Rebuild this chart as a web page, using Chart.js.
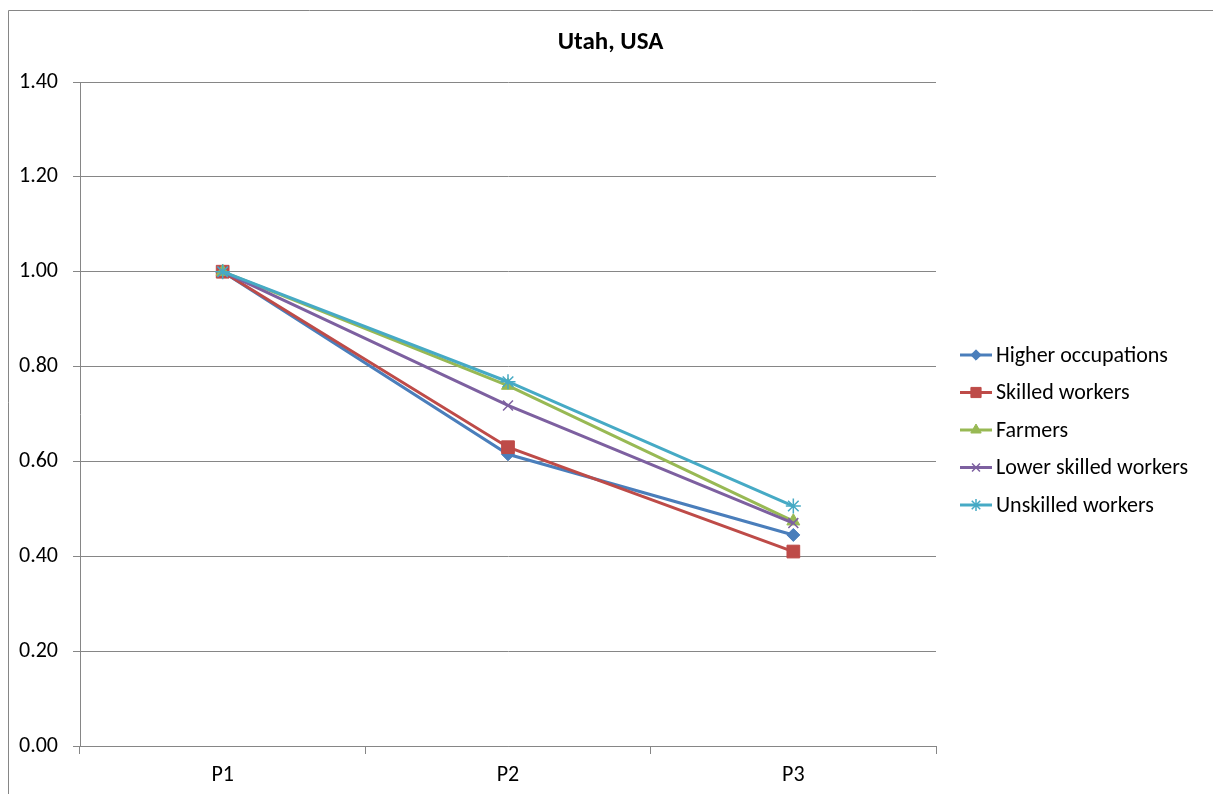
<!DOCTYPE html>
<html>
<head>
<meta charset="utf-8">
<title>Utah, USA</title>
<script src="https://cdn.jsdelivr.net/npm/chart.js@4.4.1/dist/chart.umd.min.js"></script>
<style>
    body { margin: 0; background: #fff; }
    #wrap { width: 1213px; height: 794px; }
</style>
</head>
<body>
<div id="wrap"><canvas id="grafico" width="1213" height="794"></canvas></div>
<script>
// Data
const titulo = "Utah, USA";
const periodos = ["P1", "P2", "P3"];
const seriesNames = ["Higher occupations", "Skilled workers", "Farmers", "Lower skilled workers", "Unskilled workers"];
const higherOcc = [1.00, 0.615, 0.445];
const skilled = [1.00, 0.630, 0.410];
const farmers = [1.00, 0.760, 0.474];
const lowerSkilled = [1.00, 0.718, 0.470];
const unskilled = [1.00, 0.768, 0.506];
const yTicks = [0, 0.2, 0.4, 0.6, 0.8, 1.0, 1.2, 1.4];

const FONT = "Carlito, Calibri, Lato, sans-serif";
const GRIS = "#868686";

// Look of each series (Excel 2007 defaults)
const colores = ["#4A7EBB", "#BE4B48", "#98B954", "#7D60A0", "#46AAC5"];
const marcas = ["rectRot", "rect", "triangle", "crossRot", "star"];
const radios = [6.5, 9, 7.5, 7, 7.5];

const valores = [higherOcc, skilled, farmers, lowerSkilled, unskilled];

const datasets = valores.map((v, i) => ({
    label: seriesNames[i],
    data: v,
    borderColor: colores[i],
    backgroundColor: colores[i],
    borderWidth: 3,
    pointStyle: marcas[i],
    pointRadius: radios[i],
    pointHoverRadius: radios[i],
    pointBackgroundColor: colores[i],
    pointBorderColor: colores[i],
    pointBorderWidth: (marcas[i] === "crossRot" || marcas[i] === "star") ? 1.5 : 1,
    tension: 0,
    order: valores.length - i // last series drawn on top, like Excel
}));

// Frame of the chart object (only left and top edges are visible) and the title
const marco = {
    id: "marco",
    beforeDraw(chart) {
        const ctx = chart.ctx;
        ctx.save();
        ctx.strokeStyle = GRIS;
        ctx.lineWidth = 1;
        ctx.beginPath();
        ctx.moveTo(8.5, chart.height);
        ctx.lineTo(8.5, 10.5);
        ctx.lineTo(chart.width, 10.5);
        ctx.stroke();
        ctx.fillStyle = "#000";
        ctx.font = "bold 25px " + FONT;
        ctx.textAlign = "center";
        ctx.textBaseline = "middle";
        ctx.fillText(titulo, (8 + chart.width) / 2, 43);
        ctx.restore();
    }
};

// Legend on the right: line with its marker, then the name
const leyenda = {
    id: "leyenda",
    afterDraw(chart) {
        const ctx = chart.ctx;
        const area = chart.chartArea;
        const sets = chart.data.datasets;
        const paso = 37.5;
        const y0 = (area.top + area.bottom) / 2 + 16 - paso * (sets.length - 1) / 2;
        const x0 = area.right + 24;
        ctx.save();
        ctx.font = "22px " + FONT;
        ctx.textBaseline = "middle";
        ctx.textAlign = "left";
        sets.forEach((ds, i) => {
            const y = y0 + i * paso;
            ctx.strokeStyle = ds.borderColor;
            ctx.lineWidth = 3;
            ctx.beginPath();
            ctx.moveTo(x0, y);
            ctx.lineTo(x0 + 32, y);
            ctx.stroke();
            ctx.fillStyle = ds.pointBackgroundColor;
            ctx.strokeStyle = ds.pointBorderColor;
            ctx.lineWidth = ds.pointBorderWidth;
            Chart.helpers.drawPoint(ctx, {
                pointStyle: ds.pointStyle,
                radius: ds.pointRadius * 0.8,
                rotation: 0,
                borderWidth: ds.pointBorderWidth
            }, x0 + 16, y);
            ctx.fillStyle = "#000";
            ctx.fillText(ds.label, x0 + 36, y + 1);
        });
        ctx.restore();
    }
};

new Chart(document.getElementById("grafico").getContext("2d"), {
    type: "line",
    data: { labels: periodos, datasets: datasets },
    options: {
        responsive: false,
        devicePixelRatio: 1,
        animation: false,
        layout: { padding: { left: 8, top: 82, right: 277, bottom: 0 } },
        plugins: {
            legend: { display: false },
            tooltip: { enabled: false },
            title: { display: false }
        },
        scales: {
            x: {
                type: "category",
                offset: true,
                grid: { offset: true, drawOnChartArea: false, tickLength: 8, color: GRIS },
                border: { color: GRIS },
                ticks: { color: "#000", padding: 8, font: { family: FONT, size: 22 } },
                afterFit(scale) { scale.height = 48; }
            },
            y: {
                min: yTicks[0],
                max: yTicks[yTicks.length - 1],
                afterBuildTicks(scale) { scale.ticks = yTicks.map(v => ({ value: v })); },
                grid: { color: GRIS, tickLength: 7 },
                border: { color: GRIS },
                ticks: {
                    color: "#000",
                    padding: 15,
                    font: { family: FONT, size: 22 },
                    callback: v => Number(v).toFixed(2)
                },
                afterFit(scale) { scale.width = 72; }
            }
        }
    },
    plugins: [marco, leyenda]
});
</script>
</body>
</html>
